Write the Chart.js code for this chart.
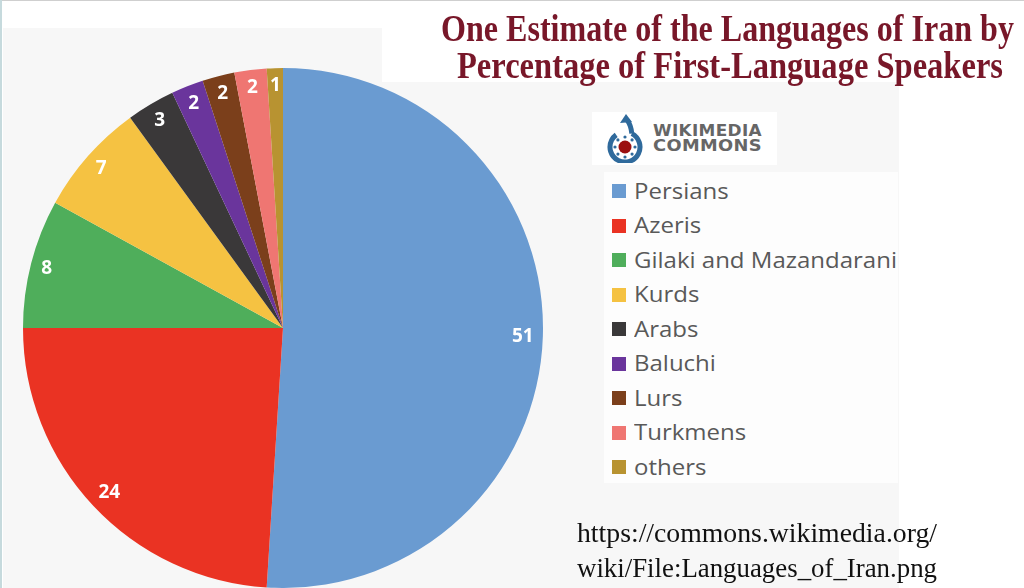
<!DOCTYPE html>
<html>
<head>
<meta charset="utf-8">
<script src="https://cdn.jsdelivr.net/npm/chart.js@4.4.1/dist/chart.umd.min.js"></script>
<style>
  html,body{margin:0;padding:0;background:#fff;}
  #wrap{position:relative;width:1024px;height:588px;overflow:hidden;background:#fff;}
  .abs{position:absolute;}
  .fit{white-space:nowrap;display:inline-block;transform-origin:0 0;}
  .title{font-family:"Liberation Serif",serif;font-weight:bold;font-size:38px;line-height:38px;color:#781729;}
  .url{font-family:"Liberation Serif",serif;font-size:27px;line-height:27px;color:#111;}
  .wm{font-family:"DejaVu Sans",sans-serif;font-weight:bold;font-size:15px;line-height:15px;color:#666;letter-spacing:0.3px;}
  .leg{font-family:"Open Sans",sans-serif;font-size:22px;line-height:22px;color:#595959;white-space:nowrap;transform-origin:0 0;}
  .sq{width:14px;height:14px;}
  canvas#c{position:absolute;left:0;top:0;}
</style>
</head>
<body>
<div id="wrap">
  <div class="abs" style="left:0;top:0;width:1024px;height:1px;background:#cfcfcf;"></div>
  <div class="abs" style="left:0;top:0;width:2px;height:588px;background:#c6dadd;"></div>
  <div class="abs" style="left:3px;top:28px;width:379px;height:560px;background:#f7f7f7;"></div>
  <div class="abs" style="left:382px;top:82px;width:517px;height:506px;background:#f7f7f7;"></div>
  <div class="abs" style="left:592px;top:112px;width:185px;height:53px;background:#fff;"></div>
  <div class="abs" style="left:604px;top:172px;width:294px;height:311px;background:#fdfdfd;"></div>
  <canvas id="logo" class="abs" width="44" height="50" style="left:603px;top:113px;"></canvas>
  <div class="abs wm fit" data-w="109" style="left:653px;top:124px;">WIKIMEDIA</div>
  <div class="abs wm fit" data-w="109" style="left:653px;top:139px;">COMMONS</div>
  <div id="legend"></div>
  <canvas id="c" width="1024" height="588"></canvas>
  <div class="abs title fit" data-w="573" style="left:441px;top:9px;">One Estimate of the Languages of Iran by</div>
  <div class="abs title fit" data-w="546" style="left:457px;top:46px;">Percentage of First-Language Speakers</div>
  <div class="abs url fit" data-w="360" style="left:577px;top:520px;">https://commons.wikimedia.org/</div>
  <div class="abs url fit" data-w="360" style="left:577px;top:555px;">wiki/File:Languages_of_Iran.png</div>
</div>
<script>
const categories = ["Persians","Azeris","Gilaki and Mazandarani","Kurds","Arabs","Baluchi","Lurs","Turkmens","others"];
const percentages = [51,24,8,7,3,2,2,2,1];
const colors = ["#6a9bd1","#ea3323","#4fae5b","#f5c242","#3a3839","#6a359c","#7b3f1b","#ef7672","#b89331"];

// legend (HTML, built from arrays)
const leg = document.getElementById('legend');
const legTexts = [];
categories.forEach((name,i)=>{
  const cy = 191 + i*34.5;
  const sq = document.createElement('div');
  sq.className='abs sq';
  sq.style.left='612px'; sq.style.top=(cy-7)+'px'; sq.style.background=colors[i];
  leg.appendChild(sq);
  const t = document.createElement('div');
  t.className='abs leg';
  t.style.left='634px'; t.style.top=(cy+7-19.5)+'px';
  t.textContent=name;
  leg.appendChild(t);
  legTexts.push(t);
});
const longest = Math.max(...legTexts.map(t=>t.getBoundingClientRect().width));
const legScale = 263/longest;
legTexts.forEach(t=>{t.style.transform='scaleX('+legScale+')';});

// fit text widths
document.querySelectorAll('.fit').forEach(el=>{
  const w = parseFloat(el.dataset.w);
  const nat = el.getBoundingClientRect().width;
  if(nat>0) el.style.transform='scaleX('+(w/nat)+')';
});

// logo drawing
(function(){
  const c=document.getElementById('logo').getContext('2d');
  const cx=22, cy=34, r=15;
  c.strokeStyle='#2f6a9c'; c.lineWidth=5; c.lineCap='butt';
  c.beginPath(); c.arc(cx,cy,r,-Math.PI*0.35,Math.PI*1.3,false); c.stroke();
  c.beginPath(); c.moveTo(cx+r*Math.cos(-Math.PI*0.35),cy+r*Math.sin(-Math.PI*0.35));
  c.quadraticCurveTo(cx+6,cy-22,cx+2,cy-27); c.stroke();
  c.fillStyle='#2f6a9c';
  c.beginPath(); c.moveTo(cx-5,cy-24); c.lineTo(cx+1,cy-33); c.lineTo(cx+7,cy-25); c.closePath(); c.fill();
  for(let k=0;k<8;k++){
    const a=k*Math.PI/4;
    c.beginPath(); c.arc(cx+10*Math.cos(a),cy+10*Math.sin(a),1.6,0,Math.PI*2); c.fill();
  }
  c.fillStyle='#9b1010';
  c.beginPath(); c.arc(cx,cy,6.5,0,Math.PI*2); c.fill();
})();

const labelPlugin = {
  id:'insideEndLabels',
  afterDatasetsDraw(chart){
    const ctx=chart.ctx;
    const meta=chart.getDatasetMeta(0);
    ctx.save();
    ctx.font='bold 19px "Open Sans", sans-serif';
    ctx.fillStyle='#ffffff';
    ctx.textAlign='center';
    ctx.textBaseline='middle';
    meta.data.forEach((arc,i)=>{
      const p=arc.getProps(['x','y','startAngle','endAngle','outerRadius'],true);
      const mid=(p.startAngle+p.endAngle)/2;
      const txt=String(chart.data.datasets[0].data[i]);
      const w=ctx.measureText(txt).width, h=14;
      const off=9+Math.abs(Math.cos(mid))*w/2+Math.abs(Math.sin(mid))*h/2;
      const d=p.outerRadius-off;
      ctx.fillText(txt,p.x+Math.cos(mid)*d,p.y+Math.sin(mid)*d+1);
    });
    ctx.restore();
  }
};

new Chart(document.getElementById('c'),{
  type:'pie',
  data:{labels:categories,datasets:[{data:percentages,backgroundColor:colors,borderWidth:0}]},
  options:{
    responsive:false,
    animation:false,
    layout:{padding:{left:23,right:481,top:68,bottom:0}},
    plugins:{legend:{display:false},tooltip:{enabled:false},title:{display:false}}
  },
  plugins:[labelPlugin]
});
</script>
</body>
</html>
